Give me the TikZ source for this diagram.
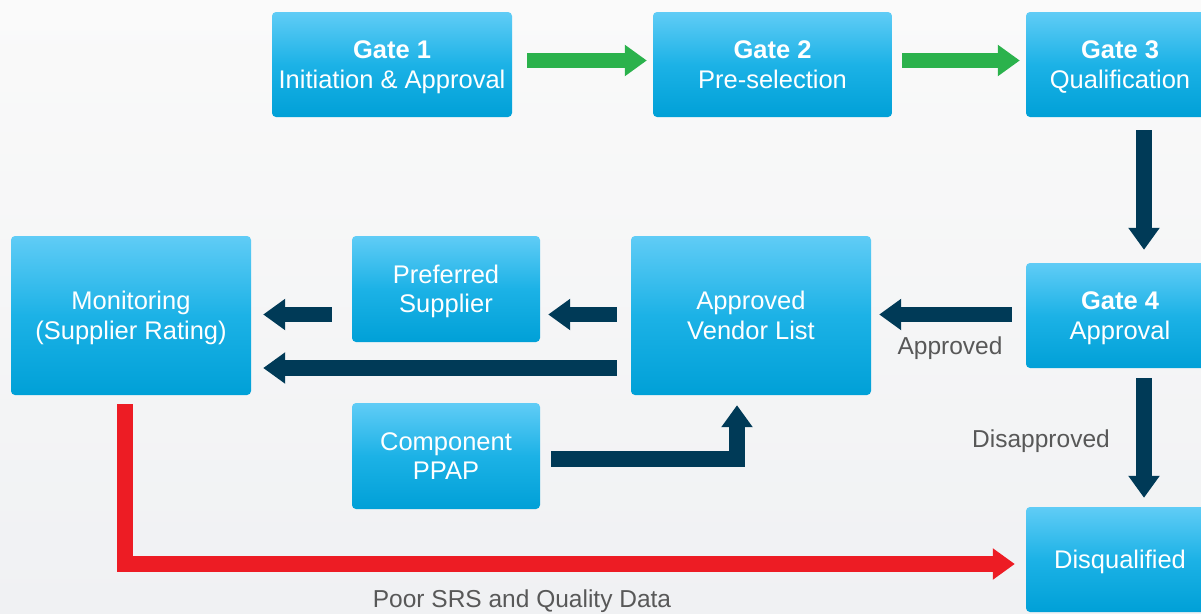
\documentclass[tikz,border=0pt]{standalone}
\usepackage{fontspec}
\setmainfont{Liberation Sans}
\usetikzlibrary{arrows.meta,calc}
\definecolor{boxtop}{RGB}{96,204,246}
\definecolor{boxmid}{RGB}{28,178,230}
\definecolor{boxbot}{RGB}{0,160,215}
\definecolor{darkarr}{RGB}{0,58,87}
\definecolor{greenarr}{RGB}{43,178,76}
\definecolor{redarr}{RGB}{237,28,36}
\definecolor{labelgray}{RGB}{88,88,88}
\definecolor{bgtop}{RGB}{250,250,250}
\definecolor{bgbot}{RGB}{240,241,243}
\newcommand\tstr{\rule{0pt}{23.5pt}}
\newcommand\bstr{\rule[-5.7pt]{0pt}{5.7pt}}
\tikzset{
  gbox/.style={rounded corners=4pt, top color=boxtop, bottom color=boxbot, middle color=boxmid,
    text=white, align=center, font=\fontsize{25.5}{29.5}\selectfont, inner sep=0pt},
  flow/.style={line width=15.5pt, -{Triangle[width=30pt,length=22pt]}, line join=miter},
  darkflow/.style={flow, draw=darkarr},
  greenflow/.style={flow, draw=greenarr},
  redflow/.style={flow, draw=redarr},
  lbl/.style={text=labelgray, font=\fontsize{24.5}{28}\selectfont, inner sep=0pt}
}
\begin{document}
\begin{tikzpicture}[x=1pt,y=-1pt]
\useasboundingbox (0,0) rectangle (1201,613);
\shade[top color=bgtop, bottom color=bgbot] (0,0) rectangle (1201,613);
\clip (0,0) rectangle (1201,613);

\node[gbox, minimum width=240pt, minimum height=105pt] (g1) at (392,64.5) {\tstr\textbf{Gate 1}\\Initiation \& Approval\bstr};
\node[gbox, minimum width=239pt, minimum height=105pt] (g2) at (772.5,64.5) {\tstr\textbf{Gate 2}\\Pre-selection\bstr};
\node[gbox, minimum width=188pt, minimum height=105pt] (g3) at (1120,64.5) {\tstr\textbf{Gate 3}\\Qualification\bstr};
\node[gbox, minimum width=188pt, minimum height=105pt] (g4) at (1120,315.5) {\tstr\textbf{Gate 4}\\Approval\bstr};
\node[gbox, minimum width=188pt, minimum height=105pt] (dq) at (1120,559.5) {\tstr Disqualified\bstr};
\node[gbox, minimum width=240pt, minimum height=159pt] (mon) at (131,315.5) {\tstr Monitoring\\(Supplier Rating)\bstr};
\node[gbox, minimum width=188pt, minimum height=106pt] (pref) at (446,289) {\tstr Preferred\\Supplier\bstr};
\node[gbox, minimum width=240pt, minimum height=159pt] (avl) at (751,315.5) {\tstr Approved\\Vendor List\bstr};
\node[gbox, minimum width=188pt, minimum height=106pt] (ppap) at (446,456) {\tstr Component\\PPAP\bstr};

% green arrows
\draw[greenflow] ($(g1.east)+(15,-4)$) -- ($(g2.west)+(-6,-4)$);
\draw[greenflow] ($(g2.east)+(10,-4)$) -- ($(g3.west)+(-6,-4)$);

% dark arrows
\draw[darkflow] ($(g3.south)+(24,13)$) -- ($(g4.north)+(24,-13)$);
\draw[darkflow] ($(g4.west)+(-14,-1)$) -- ($(avl.east)+(8,-1)$);
\draw[darkflow] ($(g4.south)+(24,10)$) -- ($(dq.north)+(24,-9)$);
\draw[darkflow] ($(avl.west)+(-14,-1)$) -- ($(pref.east)+(8,25.5)$);
\draw[darkflow] ($(pref.west)+(-20,25.5)$) -- ($(mon.east)+(12,-1)$);
\draw[darkflow] ($(avl.west)+(-14,52.5)$) -- ($(mon.east)+(12,52.5)$);
\draw[darkflow] ($(ppap.east)+(11,3)$) -| ($(avl.south)+(-14,10)$);

% red arrow
\draw[redflow] ($(mon.south)+(-6,9)$) |- ($(dq.west)+(-11,4.5)$);

% labels
\node[lbl] (lapp) at (950,348) {Approved};
\node[lbl] (ldis) at (1041,441) {Disapproved};
\node[lbl] (lpoor) at (522,601) {Poor SRS and Quality Data};
\end{tikzpicture}
\end{document}
